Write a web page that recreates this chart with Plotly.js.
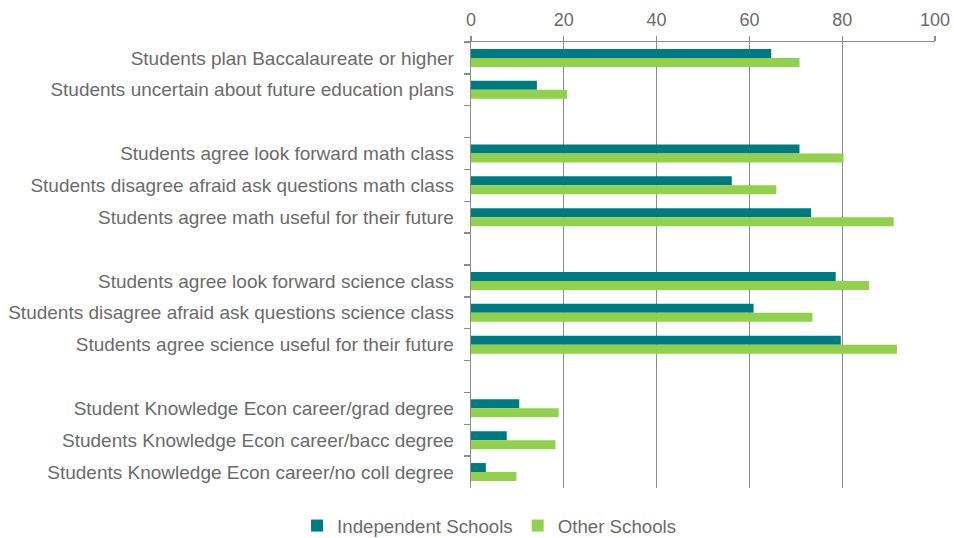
<!DOCTYPE html>
<html>
<head>
<meta charset="utf-8">
<script src="https://cdn.plot.ly/plotly-3.0.1.min.js"></script>
<style>html,body{margin:0;padding:0;background:#fff;}#chart{width:954px;height:538px;}</style>
</head>
<body>
<div id="chart"></div>
<script>
const categories = [
  "Students plan Baccalaureate or higher",
  "Students uncertain about future education plans",
  " ",
  "Students agree look forward math class",
  "Students disagree afraid ask questions math class",
  "Students agree math useful for their future",
  "  ",
  "Students agree look forward science class",
  "Students disagree afraid ask questions science class",
  "Students agree science useful for their future",
  "   ",
  "Student Knowledge Econ career/grad degree",
  "Students Knowledge Econ career/bacc degree",
  "Students Knowledge Econ career/no coll degree"
];
const independentSchools = [64.7, 14.2, null, 70.8, 56.2, 73.3, null, 78.6, 60.9, 79.7, null, 10.4, 7.7, 3.2];
const otherSchools = [70.8, 20.7, null, 80.3, 65.8, 91.1, null, 85.8, 73.6, 91.8, null, 18.9, 18.2, 9.8];
const xTicks = [0, 20, 40, 60, 80, 100];

const gray = "#6b6b6b";
const lineGray = "#8c8c8c";

const data = [
  {type: "bar", orientation: "h", name: "Independent Schools", y: categories, x: independentSchools,
   marker: {color: "#007A7F"}, hoverinfo: "x+y"},
  {type: "bar", orientation: "h", name: "Other Schools", y: categories, x: otherSchools,
   marker: {color: "#92D050"}, hoverinfo: "x+y"}
];

const layout = {
  width: 954, height: 538,
  margin: {l: 471, r: 19, t: 42, b: 50, autoexpand: false},
  paper_bgcolor: "#ffffff", plot_bgcolor: "#ffffff",
  font: {family: "Liberation Sans, Arial, sans-serif", size: 18.7, color: gray},
  barmode: "group", bargap: 0.434, bargroupgap: 0,
  showlegend: true,
  legend: {orientation: "h", x: 0.04, xanchor: "center", y: -0.085, yanchor: "middle",
           font: {size: 18.7, color: gray}, itemwidth: 30, traceorder: "normal"},
  xaxis: {side: "top", range: [0, 100], tickvals: xTicks, ticktext: xTicks.map(String),
          showgrid: true, gridcolor: lineGray, gridwidth: 1.3,
          showline: true, linecolor: lineGray, linewidth: 1.3,
          zeroline: false, ticks: "outside", ticklen: 5, tickcolor: lineGray, tickwidth: 1.3,
          ticklabelstandoff: 3,
          tickfont: {size: 18, color: gray}, fixedrange: true},
  yaxis: {type: "category", categoryorder: "array", categoryarray: categories,
          autorange: "reversed", showgrid: false, zeroline: false,
          showline: true, linecolor: lineGray, linewidth: 1.3,
          ticks: "outside", tickson: "boundaries", ticklen: 6, tickcolor: lineGray, tickwidth: 1.3,
          ticklabelstandoff: 12,
          tickfont: {size: 19, color: gray}, fixedrange: true}
};

Plotly.newPlot("chart", data, layout, {displayModeBar: false, staticPlot: true});
</script>
</body>
</html>
